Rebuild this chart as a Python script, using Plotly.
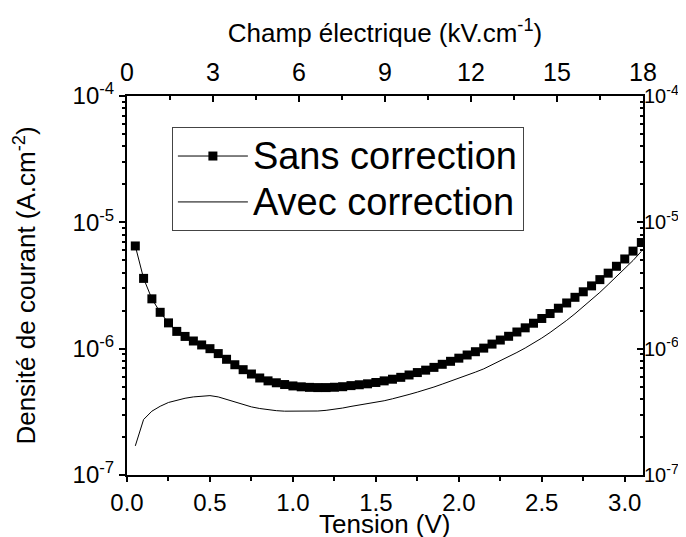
import plotly.graph_objects as go

# Tension (V)
tension = [0.05, 0.10, 0.15, 0.20, 0.25, 0.30, 0.35, 0.40, 0.45, 0.50,
           0.55, 0.60, 0.65, 0.70, 0.75, 0.80, 0.85, 0.90, 0.95, 1.00,
           1.05, 1.10, 1.15, 1.20, 1.25, 1.30, 1.35, 1.40, 1.45, 1.50,
           1.55, 1.60, 1.65, 1.70, 1.75, 1.80, 1.85, 1.90, 1.95, 2.00,
           2.05, 2.10, 2.15, 2.20, 2.25, 2.30, 2.35, 2.40, 2.45, 2.50,
           2.55, 2.60, 2.65, 2.70, 2.75, 2.80, 2.85, 2.90, 2.95, 3.00,
           3.05, 3.10]

# Densité de courant sans correction (A/cm2)
sans_correction = [6.50e-6, 3.60e-6, 2.48e-6, 1.94e-6, 1.60e-6, 1.37e-6, 1.25e-6, 1.15e-6, 1.07e-6, 1.00e-6,
                   9.14e-7, 8.24e-7, 7.46e-7, 6.82e-7, 6.30e-7, 5.86e-7, 5.56e-7, 5.37e-7, 5.20e-7, 5.07e-7,
                   4.99e-7, 4.94e-7, 4.92e-7, 4.92e-7, 4.95e-7, 5.00e-7, 5.10e-7, 5.18e-7, 5.27e-7, 5.40e-7,
                   5.56e-7, 5.73e-7, 5.93e-7, 6.19e-7, 6.47e-7, 6.76e-7, 7.11e-7, 7.52e-7, 7.94e-7, 8.41e-7,
                   8.91e-7, 9.46e-7, 1.01e-6, 1.087e-6, 1.17e-6, 1.253e-6, 1.355e-6, 1.462e-6, 1.59e-6, 1.734e-6,
                   1.897e-6, 2.09e-6, 2.30e-6, 2.55e-6, 2.82e-6, 3.14e-6, 3.52e-6, 3.96e-6, 4.49e-6, 5.13e-6,
                   5.92e-6, 6.92e-6]

# Densité de courant avec correction (A/cm2)
avec_correction = [1.70e-7, 2.75e-7, 3.20e-7, 3.50e-7, 3.75e-7, 3.92e-7, 4.05e-7, 4.15e-7, 4.22e-7, 4.25e-7,
                   4.15e-7, 3.97e-7, 3.78e-7, 3.60e-7, 3.46e-7, 3.36e-7, 3.28e-7, 3.23e-7, 3.20e-7, 3.20e-7,
                   3.18e-7, 3.19e-7, 3.21e-7, 3.25e-7, 3.31e-7, 3.39e-7, 3.49e-7, 3.58e-7, 3.66e-7, 3.75e-7,
                   3.87e-7, 4.01e-7, 4.15e-7, 4.34e-7, 4.53e-7, 4.73e-7, 4.97e-7, 5.24e-7, 5.52e-7, 5.82e-7,
                   6.15e-7, 6.52e-7, 6.92e-7, 7.43e-7, 8.02e-7, 8.61e-7, 9.33e-7, 1.012e-6, 1.104e-6, 1.213e-6,
                   1.343e-6, 1.496e-6, 1.675e-6, 1.89e-6, 2.14e-6, 2.44e-6, 2.79e-6, 3.22e-6, 3.71e-6, 4.29e-6,
                   4.99e-6, 5.89e-6]

y_major = [1e-7, 1e-6, 1e-5, 1e-4]
y_major_text = ["10<sup>-7</sup>", "10<sup>-6</sup>", "10<sup>-5</sup>", "10<sup>-4</sup>"]
y_minor = [m * 10 ** e for e in (-7, -6, -5) for m in range(2, 10)]

FONT = "Liberation Sans, Arial, sans-serif"

fig = go.Figure()
fig.add_trace(go.Scatter(
    x=tension, y=sans_correction, name="<span style='font-size:38px'>Sans correction</span>",
    mode="lines+markers",
    line=dict(color="black", width=1),
    marker=dict(symbol="square", size=9, color="black"),
))
fig.add_trace(go.Scatter(
    x=tension, y=avec_correction, name="<span style='font-size:38px'>Avec correction</span>",
    mode="lines",
    line=dict(color="black", width=1),
))
fig.add_trace(go.Scatter(x=[], y=[], xaxis="x2", yaxis="y2", showlegend=False, hoverinfo="skip"))

axis_common = dict(showgrid=False, zeroline=False, showline=True, linecolor="black", linewidth=2,
                   tickcolor="black", tickwidth=1.5)
tickf = dict(family=FONT, size=24, color="black")
titlef = dict(family=FONT, size=26, color="black")

fig.update_layout(
    width=686, height=537,
    margin=dict(l=119, r=51, t=88, b=70),
    paper_bgcolor="white", plot_bgcolor="white",
    font=dict(family=FONT, color="black"),
    showlegend=True,
    legend=dict(x=0.087, y=0.918, xanchor="left", yanchor="top",
                bordercolor="#444", borderwidth=1, bgcolor="white",
                font=dict(family=FONT, size=33, color="black"),
                itemwidth=70, tracegroupgap=0),
    xaxis=dict(range=[0, 3.11], dtick=0.5, tick0=0, tickformat=".1f",
               ticks="outside", ticklen=5, tickfont=tickf,
               minor=dict(dtick=0.25, ticks="outside", ticklen=4, tickcolor="black", tickwidth=1.5),
               **axis_common),
    xaxis2=dict(range=[0, 18], dtick=3, tick0=0, overlaying="x", side="top", anchor="y",
                ticks="inside", ticklen=6, tickfont=dict(family=FONT, size=25, color="black"),
                ticklabelstandoff=3,
                minor=dict(dtick=1.5, ticks="inside", ticklen=4, tickcolor="black", tickwidth=1.5),
                title=dict(text="Champ électrique (kV.cm<sup>-1</sup>)", font=titlef, standoff=8),
                **axis_common),
    yaxis=dict(type="log", range=[-7, -4], tickmode="array", tickvals=y_major, ticktext=y_major_text,
               ticks="outside", ticklen=6, tickfont=tickf,
               minor=dict(tickmode="array", tickvals=y_minor, ticks="outside", ticklen=3,
                          tickcolor="black", tickwidth=1.5),
               title=dict(text="Densité de courant (A.cm<sup>-2</sup>)", font=titlef, standoff=29),
               **axis_common),
    yaxis2=dict(type="log", range=[-7, -4], overlaying="y", side="right", anchor="x",
                tickmode="array", tickvals=y_major, ticktext=y_major_text,
                ticks="inside", ticklen=6, tickfont=dict(family=FONT, size=20, color="black"),
                ticklabelstandoff=-5,
                minor=dict(tickmode="array", tickvals=y_minor, ticks="inside", ticklen=3,
                           tickcolor="black", tickwidth=1.5),
                **axis_common),
    annotations=[dict(text="Tension (V)", xref="paper", yref="paper", x=0.5, y=-0.13,
                      xanchor="center", yanchor="middle", showarrow=False, font=titlef)],
)

fig.write_html("out.html")
